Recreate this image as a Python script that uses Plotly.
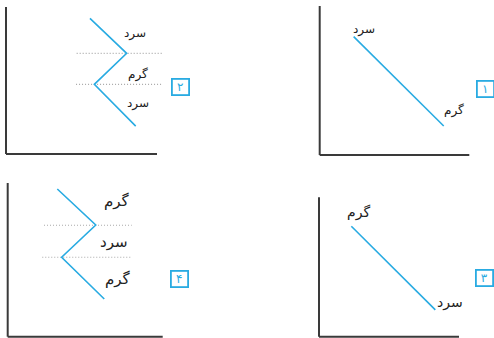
import plotly.graph_objects as go

W, H = 494, 338
COLD = "سرد"
WARM = "گرم"
BADGES = ["۱", "۲", "۳", "۴"]

# Data per panel, in panel units (x: 0..10 along the x-axis line, y: 0..10 up the y-axis)
p1_x = [2.27, 8.29]
p1_y = [7.94, 1.95]
p1_lab_x = [2.94, 8.96]
p1_lab_y = [8.39, 3.02]
p1_lab_t = [COLD, WARM]

p2_x = [5.56, 7.99, 5.85, 8.59]
p2_y = [9.23, 6.85, 4.74, 1.90]
p2_dot_y = [6.85, 4.74]
p2_dot_x0 = [4.68, 4.64]
p2_dot_x1 = [10.35, 10.31]
p2_lab_x = [8.54, 8.74, 8.72]
p2_lab_y = [8.21, 5.44, 3.45]
p2_lab_t = [COLD, WARM, COLD]

p3_x = [2.31, 8.31]
p3_y = [7.92, 1.92]
p3_lab_x = [2.84, 9.38]
p3_lab_y = [8.92, 2.47]
p3_lab_t = [WARM, COLD]

p4_x = [3.20, 5.68, 3.48, 6.23]
p4_y = [9.61, 7.27, 5.17, 2.45]
p4_dot_y = [7.25, 5.17]
p4_dot_x0 = [2.34, 2.23]
p4_dot_x1 = [8.00, 7.94]
p4_lab_x = [7.03, 6.88, 7.14]
p4_lab_y = [8.85, 6.18, 3.75]
p4_lab_t = [WARM, COLD, WARM]

LINE_C = "#29ABE2"
AXIS_C = "#3a3a3a"
DOT_C = "#a8a8a8"
FONT = "DejaVu Sans"
XR = 10.5

# panel layout boxes in pixels: (left, right, top, bottom) of the L-shaped axes
boxes = {
    1: (319.7, 469.3, 6, 155),
    2: (6, 157, 7, 154),
    3: (319, 459, 197.3, 336.7),
    4: (7.7, 162.7, 183, 336.7),
}
# badge centres (pixels)
badge_pos = {1: (485.5, 89), 2: (180.5, 87), 3: (484.5, 277.5), 4: (179.5, 279)}

panels = {
    1: dict(x=p1_x, y=p1_y, lx=p1_lab_x, ly=p1_lab_y, lt=p1_lab_t, fs=12),
    2: dict(x=p2_x, y=p2_y, lx=p2_lab_x, ly=p2_lab_y, lt=p2_lab_t, fs=12,
            dy=p2_dot_y, dx0=p2_dot_x0, dx1=p2_dot_x1),
    3: dict(x=p3_x, y=p3_y, lx=p3_lab_x, ly=p3_lab_y, lt=p3_lab_t, fs=14),
    4: dict(x=p4_x, y=p4_y, lx=p4_lab_x, ly=p4_lab_y, lt=p4_lab_t, fs=15,
            dy=p4_dot_y, dx0=p4_dot_x0, dx1=p4_dot_x1),
}

fig = go.Figure()
layout = dict(width=W, height=H, margin=dict(l=0, r=0, t=0, b=0),
              paper_bgcolor="white", plot_bgcolor="white", showlegend=False)
shapes = []
annotations = []

for i, (n, p) in enumerate(panels.items(), start=1):
    L, R, T, B = boxes[n]
    xa = "x" if i == 1 else f"x{i}"
    ya = "y" if i == 1 else f"y{i}"
    xk = "xaxis" if i == 1 else f"xaxis{i}"
    yk = "yaxis" if i == 1 else f"yaxis{i}"
    dom_r = L + (R - L) * XR / 10
    layout[xk] = dict(domain=[L / W, dom_r / W], range=[0, XR], visible=False,
                      anchor=ya, fixedrange=True)
    layout[yk] = dict(domain=[(H - B) / H, (H - T) / H], range=[0, 10], visible=False,
                      anchor=xa, fixedrange=True)
    # axes L
    shapes.append(dict(type="line", xref=f"{xa} domain", yref=f"{ya} domain",
                       x0=0, x1=10 / XR, y0=0, y1=0, line=dict(color=AXIS_C, width=2)))
    shapes.append(dict(type="line", xref=f"{xa} domain", yref=f"{ya} domain",
                       x0=0, x1=0, y0=0, y1=1, line=dict(color=AXIS_C, width=2)))
    if "dy" in p:
        dxs, dys = [], []
        for y, a, b in zip(p["dy"], p["dx0"], p["dx1"]):
            dxs += [a, b, None]
            dys += [y, y, None]
        fig.add_trace(go.Scatter(x=dxs, y=dys, mode="lines", xaxis=xa, yaxis=ya,
                                 line=dict(color=DOT_C, width=1.2, dash="1px,2px"),
                                 hoverinfo="skip"))
    fig.add_trace(go.Scatter(x=p["x"], y=p["y"], mode="lines", xaxis=xa, yaxis=ya,
                             line=dict(color=LINE_C, width=1.6), hoverinfo="skip"))
    for tx, ty, tt in zip(p["lx"], p["ly"], p["lt"]):
        annotations.append(dict(x=tx, y=ty, xref=xa, yref=ya, text=tt, showarrow=False,
                                font=dict(family=FONT, size=p["fs"], color="#222")))
    bx, by = badge_pos[n]
    annotations.append(dict(x=bx / W, y=(H - by) / H, xref="paper", yref="paper",
                            text=BADGES[n - 1], showarrow=False, width=12, height=11,
                            borderwidth=1.8, bordercolor=LINE_C, borderpad=1.5,
                            bgcolor="white", xanchor="center", yanchor="middle",
                            font=dict(family=FONT, size=12, color=LINE_C)))

layout["shapes"] = shapes
layout["annotations"] = annotations
fig.update_layout(**layout)
fig.write_html("out.html", config={"displayModeBar": False},
               post_script="document.body.style.margin='0';document.body.style.overflow='hidden';")
